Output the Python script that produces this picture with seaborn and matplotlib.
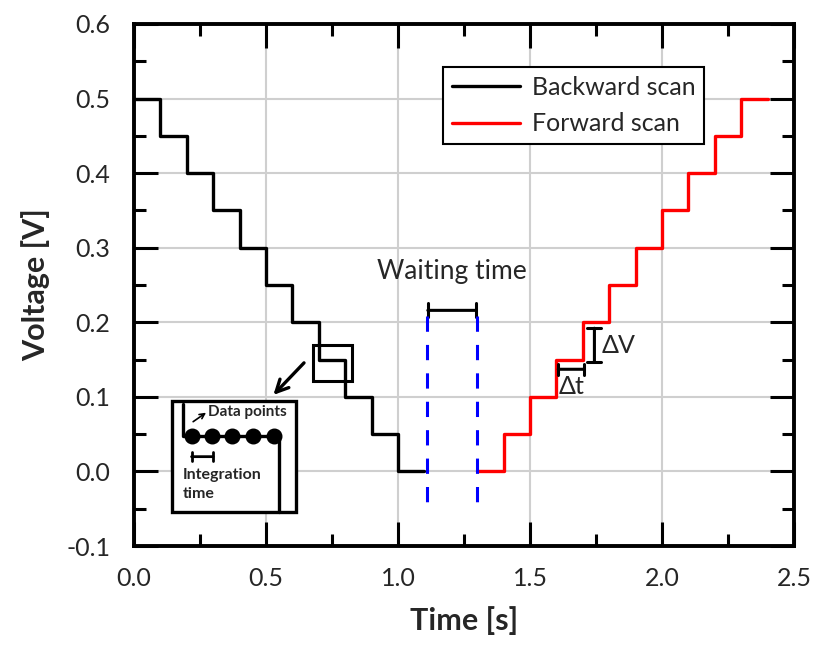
import numpy as np
import pandas as pd
import matplotlib
matplotlib.use("Agg")
import matplotlib.pyplot as plt
import seaborn as sns
from matplotlib.ticker import MultipleLocator, FormatStrFormatter
from matplotlib.patches import Rectangle
from matplotlib.lines import Line2D

# ---- data ----
backward_time = [0.0, 0.1, 0.2, 0.3, 0.4, 0.5, 0.6, 0.7, 0.8, 0.9, 1.0, 1.1]
backward_voltage = [0.50, 0.45, 0.40, 0.35, 0.30, 0.25, 0.20, 0.15, 0.10, 0.05, 0.00, 0.00]
forward_time = [1.3, 1.4, 1.5, 1.6, 1.7, 1.8, 1.9, 2.0, 2.1, 2.2, 2.3, 2.4]
forward_voltage = [0.00, 0.05, 0.10, 0.15, 0.20, 0.25, 0.30, 0.35, 0.40, 0.45, 0.50, 0.50]
series_labels = ["Backward scan", "Forward scan"]
wait_start, wait_end = 1.11, 1.30
inset_dots_time = [0.219, 0.295, 0.371, 0.451, 0.529]
inset_dots_level = 0.0475

sns.set_theme(style="white")
plt.rcParams['font.family'] = ['Lato', 'DejaVu Sans']

fig = plt.figure(figsize=(8.13, 6.5), dpi=100)
ax = fig.add_axes([134/813, 1-546/650, 660/813, 522/650])

df_b = pd.DataFrame({"t": backward_time, "v": backward_voltage})
df_f = pd.DataFrame({"t": forward_time, "v": forward_voltage})
sns.lineplot(data=df_b, x="t", y="v", ax=ax, color="black", lw=2.4,
             drawstyle="steps-post", estimator=None, sort=False, zorder=3)
sns.lineplot(data=df_f, x="t", y="v", ax=ax, color="#ff0000", lw=2.4,
             drawstyle="steps-post", estimator=None, sort=False, zorder=3)

# waiting time dashed lines
for xx in (wait_start, wait_end):
    ax.plot([xx, xx], [0.208, -0.052], color="#0000ff", lw=2.2,
            dashes=(5, 4.3), zorder=4)
# waiting bracket
ax.annotate("", xy=(1.113, 0.216), xytext=(1.295, 0.216),
            arrowprops=dict(arrowstyle="|-|", lw=2.2, color="black",
                            mutation_scale=5, shrinkA=0, shrinkB=0))
ax.text(1.205, 0.268, "Waiting time", ha="center", va="center", fontsize=19)

# Delta V bracket
ax.annotate("", xy=(1.744, 0.192), xytext=(1.744, 0.147),
            arrowprops=dict(arrowstyle="|-|", lw=2.2, color="black",
                            mutation_scale=5, shrinkA=0, shrinkB=0))
ax.text(1.772, 0.1695, "ΔV", ha="left", va="center", fontsize=18)
# Delta t bracket
ax.annotate("", xy=(1.607, 0.137), xytext=(1.706, 0.137),
            arrowprops=dict(arrowstyle="|-|", lw=2.2, color="black",
                            mutation_scale=4, shrinkA=0, shrinkB=0))
ax.text(1.658, 0.1136, "Δt", ha="center", va="center", fontsize=18)

# small highlight rectangle
ax.add_patch(Rectangle((0.677, 0.1216), 0.147, 0.048, fill=False,
                       lw=2.2, ec="black", zorder=5))
ax.annotate("", xy=(0.528, 0.1026), xytext=(0.644, 0.1456),
            arrowprops=dict(arrowstyle="->", lw=2.4, color="black",
                            mutation_scale=22, shrinkA=0, shrinkB=0))

# inset box
ax.add_patch(Rectangle((0.144, -0.0544), 0.470, 0.1488, fill=True, fc="white",
                       lw=2.4, ec="black", zorder=5))
ax.plot([0.184, 0.184, 0.549, 0.549], [0.0904, 0.0475, 0.0475, -0.054],
        color="black", lw=2.4, zorder=6)
ax.scatter(inset_dots_time, [inset_dots_level]*len(inset_dots_time),
           s=110, color="black", zorder=7)
ax.annotate("", xy=(0.273, 0.0788), xytext=(0.224, 0.0667),
            arrowprops=dict(arrowstyle="->", lw=1.2, color="black",
                            mutation_scale=9, shrinkA=0, shrinkB=0), zorder=7)
ax.text(0.282, 0.080, "Data points", ha="left", va="center", fontsize=11,
        fontweight="bold", zorder=7)
ax.annotate("", xy=(0.218, 0.0198), xytext=(0.300, 0.0198),
            arrowprops=dict(arrowstyle="|-|", lw=2.0, color="black",
                            mutation_scale=3, shrinkA=0, shrinkB=0), zorder=7)
ax.text(0.184, 0.005, "Integration\ntime", ha="left", va="top", fontsize=11.5,
        fontweight="bold", linespacing=1.5, zorder=7)

# axes styling
ax.set_xlim(0, 2.5)
ax.set_ylim(-0.1, 0.6)
ax.xaxis.set_major_locator(MultipleLocator(0.5))
ax.xaxis.set_minor_locator(MultipleLocator(0.25))
ax.yaxis.set_major_locator(MultipleLocator(0.1))
ax.yaxis.set_minor_locator(MultipleLocator(0.05))
ax.xaxis.set_major_formatter(FormatStrFormatter('%.1f'))
ax.yaxis.set_major_formatter(FormatStrFormatter('%.1f'))
ax.grid(True, which="major", color="#cfcfcf", lw=1.5)
ax.set_axisbelow(True)
ax.tick_params(which="both", direction="in", top=True, right=True,
               bottom=True, left=True, color="black", width=2.2)
ax.tick_params(which="major", length=17, labelsize=18)
ax.tick_params(axis="x", which="major", pad=15)
ax.tick_params(axis="y", which="major", pad=17)
ax.tick_params(which="minor", length=8.5)
for sp in ax.spines.values():
    sp.set_color("black")
    sp.set_linewidth(2.8)
    sp.set_visible(True)

ax.set_xlabel("Time [s]", fontsize=22, fontweight="bold", labelpad=12)
ax.set_ylabel("Voltage [V]", fontsize=22, fontweight="bold", labelpad=12)

handles = [Line2D([], [], color="black", lw=2.4),
           Line2D([], [], color="#ff0000", lw=2.4)]
leg = ax.legend(handles, series_labels, loc="upper left",
                bbox_to_anchor=(0.468, 0.918), fontsize=18, frameon=True,
                fancybox=False, framealpha=1, edgecolor="black",
                handlelength=2.75, borderpad=0.35, labelspacing=0.55,
                handletextpad=0.45, borderaxespad=0)
leg.get_frame().set_linewidth(1.5)

fig.savefig("out.png", dpi=100)
